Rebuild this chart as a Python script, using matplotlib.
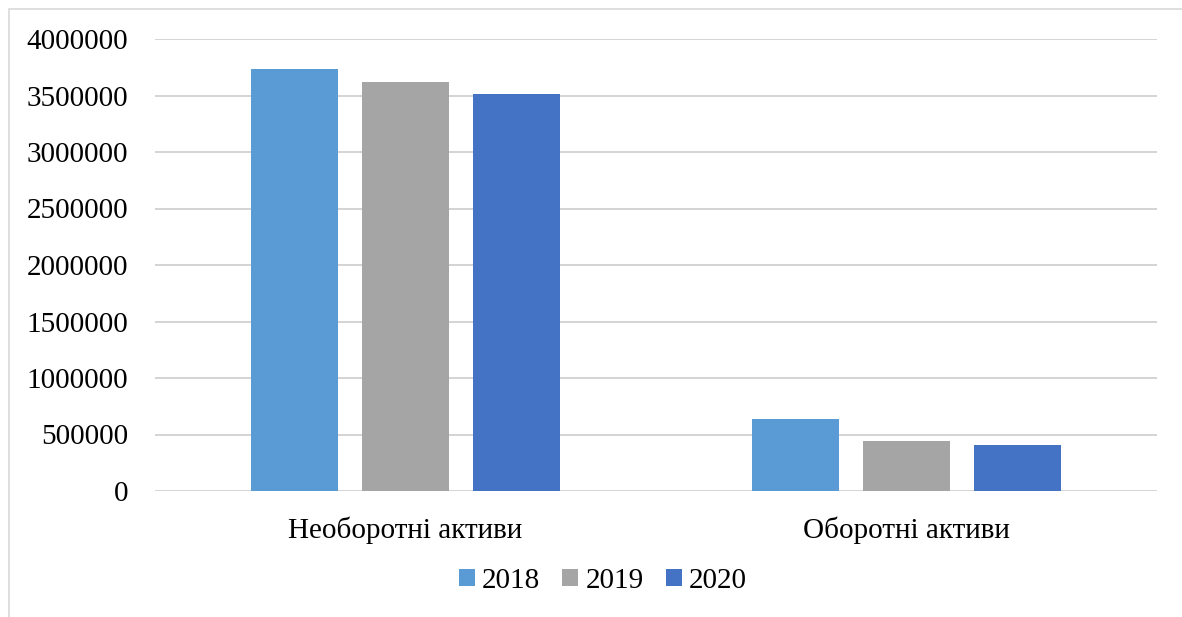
import matplotlib.pyplot as plt
import numpy as np
from matplotlib.patches import Rectangle

plt.rcParams['font.family'] = ['Liberation Serif', 'DejaVu Serif']

categories = ['Необоротні активи', 'Оборотні активи']
years = ['2018', '2019', '2020']
values_2018 = [3737000, 637000]
values_2019 = [3622000, 444000]
values_2020 = [3513000, 406000]
yticks = [0, 500000, 1000000, 1500000, 2000000, 2500000, 3000000, 3500000, 4000000]

colors = ['#5B9BD5', '#A5A5A5', '#4472C4']
series = [values_2018, values_2019, values_2020]

fig = plt.figure(figsize=(11.82, 6.17), dpi=100)
# outer chart border
fig.patches.append(Rectangle((9 / 1182, -0.1), 1.2, 1.1 - 9 / 617,
                             transform=fig.transFigure, fill=False,
                             edgecolor='#D9D9D9', linewidth=1.2))
ax = fig.add_axes([155 / 1182, 126 / 617, 1002 / 1182, 452 / 617])

x = np.arange(len(categories))
w = 0.174
step = 0.2216
for i, (vals, c, lab) in enumerate(zip(series, colors, years)):
    ax.bar(x + (i - 1) * step, vals, width=w, color=c, label=lab, zorder=3)

ax.set_xlim(-0.5, 1.5)
ax.set_ylim(0, 4000000)
ax.set_yticks(yticks)
ax.set_yticklabels([str(v) for v in yticks])
ax.set_xticks(x)
ax.set_xticklabels(categories)
ax.yaxis.grid(True, color='#D4D4D4', linewidth=1.4, zorder=0)
ax.tick_params(axis='y', length=0, pad=19.5, labelsize=21)
ax.tick_params(axis='x', length=0, pad=18, labelsize=21)
for s in ax.spines.values():
    s.set_visible(False)

ax.legend(loc='center', bbox_to_anchor=(0.447, -0.199), ncol=3, frameon=False,
          fontsize=21, handlelength=0.55, handleheight=0.55, handletextpad=0.25,
          columnspacing=0.75)

fig.savefig('out.png', dpi=100)
